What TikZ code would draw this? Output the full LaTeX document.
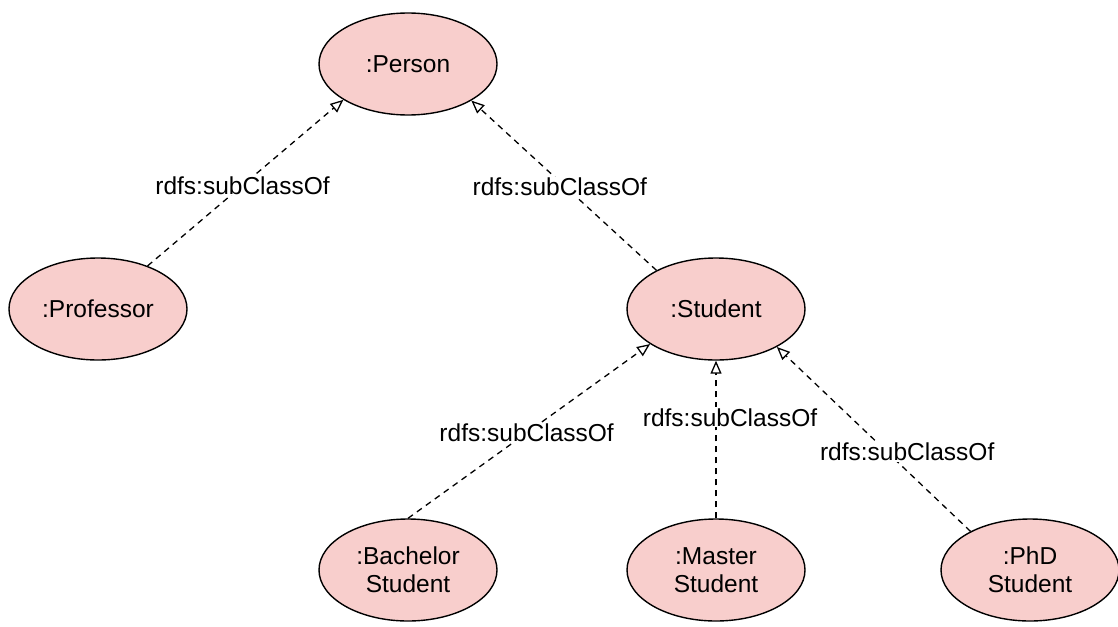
\documentclass[tikz,border=0pt]{standalone}
\usepackage{fontspec}
\setmainfont{Liberation Sans}
\usetikzlibrary{arrows.meta,shapes.geometric}
\definecolor{nodefill}{HTML}{F8CECC}
\tikzset{
  cls/.style={ellipse, draw=black, fill=nodefill, line width=1.4pt,
    minimum width=178pt, minimum height=102pt, inner sep=0pt,
    align=center, font=\fontsize{24.5}{28}\selectfont},
  sub/.style={draw=black, line width=1.3pt, dash pattern=on 6pt off 5pt,
    -{Triangle[fill=white, length=13pt, width=11pt, line width=1.3pt]}},
  lbl/.style={fill=white, inner sep=1pt, font=\fontsize{24.5}{28}\selectfont}
}
\begin{document}
\begin{tikzpicture}[x=1pt,y=-1pt]
\useasboundingbox (0,0) rectangle (1118,626);
\node[cls] (person) at (408,64) {:Person};
\node[cls] (prof) at (98,309) {:Professor};
\node[cls] (student) at (716,309) {:Student};
\node[cls] (bach) at (408,570) {:Bachelor\\Student};
\node[cls] (master) at (716,570) {:Master\\Student};
\node[cls] (phd) at (1030,570) {:PhD\\Student};

\draw[sub] (prof.41) -- node[lbl, pos=0.485] {rdfs:subClassOf} (person.209.4);
\draw[sub] (student.147.4) -- node[lbl, pos=0.49, xshift=-6pt] {rdfs:subClassOf} (person.-30.1);
\draw[sub] (bach.90) -- node[lbl, pos=0.49] {rdfs:subClassOf} (student.208.7);
\draw[sub] (master.90) -- node[lbl, pos=0.64, xshift=14pt] {rdfs:subClassOf} (student.270);
\draw[sub] (phd.147) -- node[lbl, pos=0.43, xshift=20pt] {rdfs:subClassOf} (student.-32.2);
\end{tikzpicture}
\end{document}
